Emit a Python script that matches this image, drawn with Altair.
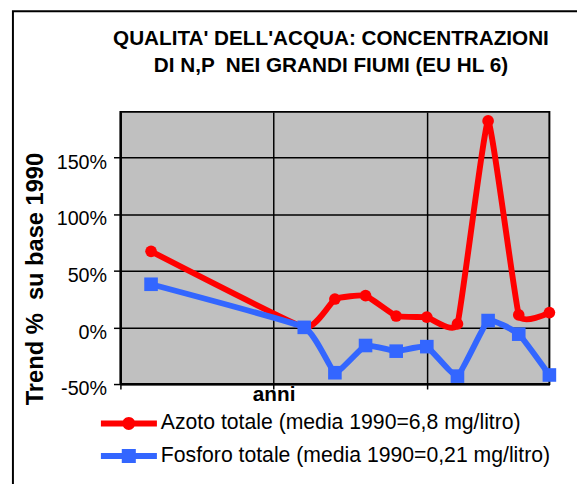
import altair as alt
import pandas as pd

# ---- data ----
anni = [1985, 1990, 1991, 1992, 1993, 1994, 1995, 1996, 1997, 1998]
azoto = [67, 0, 25, 28, 10, 9, 3, 182, 11, 13]
fosforo = [38, 0, -40, -16, -21, -17, -43, 6, -6, -42]
serie = ["Azoto totale (media 1990=6,8 mg/litro)",
         "Fosforo totale (media 1990=0,21 mg/litro)"]
colori = ["#ff0000", "#3366ff"]
y_ticks = [-50, 0, 50, 100, 150]
x_ticks = [1984, 1989, 1994]
titolo = ["QUALITA' DELL'ACQUA: CONCENTRAZIONI",
          "DI N,P \u00a0NEI GRANDI FIUMI (EU HL 6)"]
titolo_y = "Trend % \u00a0su base 1990"
etichetta_x = "anni"

rows = []
for a, v in zip(anni, azoto):
    rows.append({"anno": a, "valore": v, "serie": serie[0]})
for a, v in zip(anni, fosforo):
    rows.append({"anno": a, "valore": v, "serie": serie[1]})
df = pd.DataFrame(rows)

FONT = "Liberation Sans"

xscale = alt.Scale(domain=[1984, 1998], nice=False, zero=False)
yscale = alt.Scale(domain=[-50, 190], nice=False, zero=False)

x_enc = alt.X("anno:Q", scale=xscale, axis=alt.Axis(
    values=x_ticks, grid=True, gridColor="black", gridWidth=1.5, gridOpacity=1,
    labelExpr="datum.value == 1989 ? '%s' : ''" % etichetta_x,
    labelFont=FONT, labelFontWeight="bold", labelFontSize=21, labelColor="black",
    labelBaseline="alphabetic", labelPadding=12, labelFlush=False, labelOverlap=False,
    tickSize=5, tickColor="black", tickWidth=1.5,
    domainColor="black", domainWidth=2, title=None))

y_enc = alt.Y("valore:Q", scale=yscale, axis=alt.Axis(
    values=y_ticks, grid=True, gridColor="black", gridWidth=1.5, gridOpacity=1,
    labelExpr="datum.value + '%'", labelFont=FONT, labelFontSize=20,
    labelColor="black", labelBaseline="middle", labelOffset=5, labelPadding=7,
    labelFlush=False, labelOverlap=False,
    tickSize=7, tickColor="black", tickWidth=1.5,
    domainColor="black", domainWidth=2,
    title=titolo_y, titleFont=FONT, titleFontSize=24, titleFontWeight="bold",
    titleColor="black", titleAngle=-90, titleX=-86, titleY=169,
    titleAlign="center", titleBaseline="middle"))

color_enc = alt.Color("serie:N", scale=alt.Scale(domain=serie, range=colori), legend=None)

base = alt.Chart(df).encode(x=x_enc, y=y_enc, color=color_enc)

red_line = base.transform_filter(alt.datum.serie == serie[0]).mark_line(
    strokeWidth=6, strokeCap="round", strokeJoin="round",
    interpolate="cardinal", tension=0.65)
red_pts = base.transform_filter(alt.datum.serie == serie[0]).mark_circle(
    size=140, opacity=1)
blue_line = base.transform_filter(alt.datum.serie == serie[1]).mark_line(
    strokeWidth=6, strokeCap="round", strokeJoin="round",
    interpolate="cardinal", tension=0.65)
blue_pts = base.transform_filter(alt.datum.serie == serie[1]).mark_square(
    size=190, opacity=1)

# legend symbols: line with a marker in the middle (unit coords, scaled by sqrt(size)/2)
r = 0.23
h = 0.105
s = 0.25
path_circle = ("M-1,%g L1,%g L1,%g L-1,%g Z M%g,0 A%g,%g 0 1,1 %g,0 A%g,%g 0 1,1 %g,0 Z"
               % (-h, -h, h, h, -r, r, r, r, r, r, -r))
path_square = ("M-1,%g L1,%g L1,%g L-1,%g Z M%g,%g L%g,%g L%g,%g L%g,%g Z"
               % (-h, -h, h, h, -s, -s, s, -s, s, s, -s, s))

leg = dict(orient="none", legendX=-20, legendY=301, symbolSize=3249,
           symbolStrokeWidth=0, symbolOpacity=1, clipHeight=30, rowPadding=3,
           labelFont=FONT, labelFontSize=21.5, labelColor="black", labelOffset=4,
           labelLimit=1000, padding=0, title=None)

legend_layer = alt.Chart(df).transform_filter("false").mark_point(filled=True, opacity=1).encode(
    color=alt.Color("serie:N", scale=alt.Scale(domain=serie, range=colori),
                    legend=alt.Legend(**leg)),
    shape=alt.Shape("serie:N", scale=alt.Scale(domain=serie, range=[path_circle, path_square]),
                    legend=alt.Legend(**leg)),
)

frame = alt.Chart(pd.DataFrame({"cornice": [0]})).mark_rect(
    fill="transparent", stroke="black", strokeWidth=2).encode(
    x=alt.value(-109), x2=alt.value(700), y=alt.value(-102), y2=alt.value(600))

chart = alt.layer(frame, red_line, red_pts, blue_line, blue_pts, legend_layer).resolve_scale(
    color="independent", shape="independent"
).properties(
    width=435, height=276,
    autosize=alt.AutoSizeParams(type="none"),
    padding={"left": 114, "top": 102, "right": 28, "bottom": 98},
    view=alt.ViewBackground(fill="#c0c0c0", stroke="black", strokeWidth=2),
    title=alt.TitleParams(text=titolo, font=FONT, fontSize=21, fontWeight="bold",
                          color="black", anchor="middle", frame="group",
                          baseline="bottom", lineHeight=28, offset=0, dy=88, dx=-4),
).configure_view(fill="#c0c0c0", stroke="black", strokeWidth=2)

chart.save("out.html", embed_options={"renderer": "svg", "actions": False})
